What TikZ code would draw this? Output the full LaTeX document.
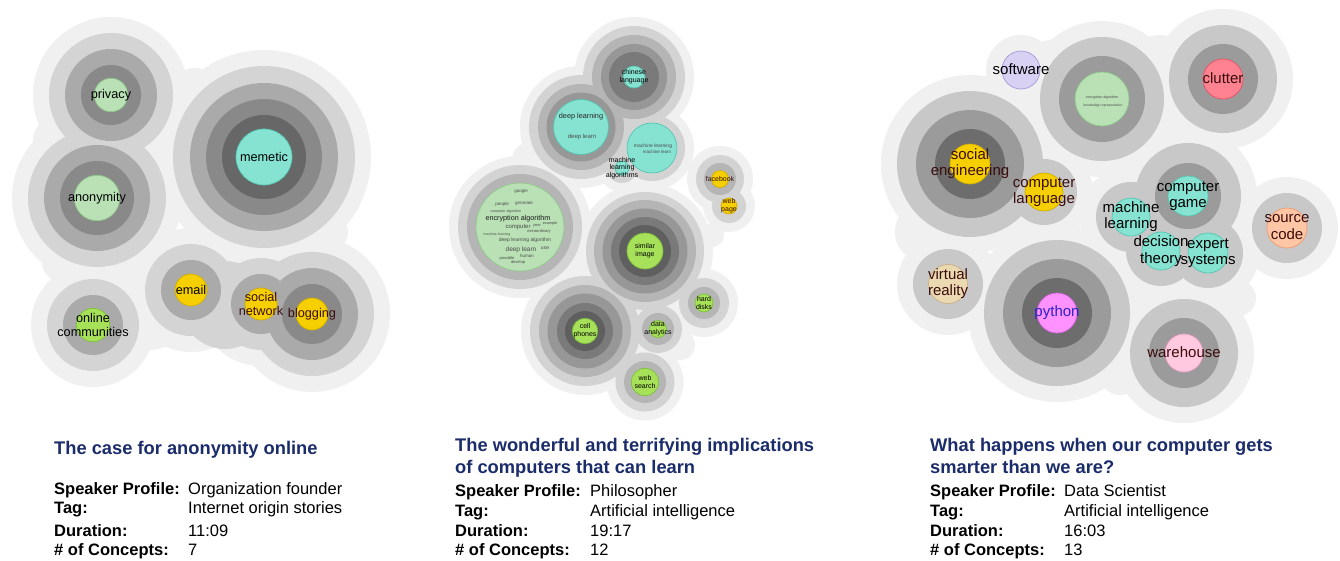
\documentclass[tikz,border=0pt]{standalone}
\usepackage{fontspec}
\setmainfont{Liberation Sans}
% ring palettes
\definecolor{blob}{HTML}{F0F0F0}
\definecolor{pa1}{HTML}{D4D4D4}\definecolor{pa2}{HTML}{AAAAAA}\definecolor{pa3}{HTML}{898989}\definecolor{pa4}{HTML}{676767}
\definecolor{pb1}{HTML}{D3D3D3}\definecolor{pb2}{HTML}{B5B5B5}\definecolor{pb3}{HTML}{979797}\definecolor{pb4}{HTML}{7A7A7A}\definecolor{pb5}{HTML}{5F5F5F}
\definecolor{pc1}{HTML}{C8C8C8}\definecolor{pc2}{HTML}{9B9B9B}\definecolor{pc3}{HTML}{6D6D6D}
% concept colours
\definecolor{gnF}{HTML}{B9E1B5}\definecolor{gnE}{HTML}{8FC98A}
\definecolor{cyF}{HTML}{86E3D2}\definecolor{cyE}{HTML}{52C6B0}
\definecolor{ygF}{HTML}{A7E15A}\definecolor{ygE}{HTML}{7DC13C}
\definecolor{gdF}{HTML}{F5CF00}\definecolor{gdE}{HTML}{D2AE00}
\definecolor{lvF}{HTML}{D9D1F3}\definecolor{lvE}{HTML}{A697D8}
\definecolor{rdF}{HTML}{FF8290}\definecolor{rdE}{HTML}{EB5068}
\definecolor{pcF}{HTML}{FFC6A6}\definecolor{pcE}{HTML}{F09A6E}
\definecolor{tnF}{HTML}{EBD9B2}\definecolor{tnE}{HTML}{C9B088}
\definecolor{mgF}{HTML}{FF92FF}\definecolor{mgE}{HTML}{DA62EA}
\definecolor{pkF}{HTML}{FFC9E0}\definecolor{pkE}{HTML}{E99DBF}
\definecolor{navy}{HTML}{1B2C6B}
\definecolor{maroon}{HTML}{3A0C0C}
\definecolor{pyblue}{HTML}{2A22C8}
\newcommand\dsk[4]{\fill[#1] (#2,#3) circle[radius=#4pt];}
\newcommand\cpt[4]{\filldraw[fill=#1F,draw=#1E,line width=0.7pt] (#2,#3) circle[radius=#4pt];}
\begin{document}
\begin{tikzpicture}[x=1pt,y=-1pt,
  lbA/.style={font=\fontsize{12.7}{13.7}\selectfont,inner sep=0pt,align=center,text=black},
  lbB/.style={font=\fontsize{7}{7.7}\selectfont,inner sep=0pt,align=center,text=black},
  lbC/.style={font=\fontsize{15}{16.4}\selectfont,inner sep=0pt,align=center,text=black},
  wc/.style={inner sep=0pt,text=black!70},
  ttl/.style={font=\bfseries\fontsize{18.3}{22}\selectfont,text=navy,anchor=base west,inner sep=0pt},
  rkey/.style={font=\bfseries\fontsize{16.5}{18}\selectfont,anchor=base west,inner sep=0pt},
  rval/.style={font=\fontsize{16.5}{18}\selectfont,anchor=base west,inner sep=0pt}]
\useasboundingbox (0,0) rectangle (1340,560);
\fill[white] (0,0) rectangle (1340,560);

% ================= PANEL 1 =================
\foreach \xx/\yy/\rr in {111/95/78,97/198/85,264/157/107,93/325/62,191/290/62,261/304/62,312/314/78,150/315/35,330/232/18,195/90/22,55/140/22,62/262/20}
  {\dsk{blob}{\xx}{\yy}{\rr}}
\foreach \xx/\yy/\rr in {111/95/62,97/198/69,264/157/91,93/325/46,191/290/46,261/304/46,312/314/62,225/305/44}
  {\dsk{pa1}{\xx}{\yy}{\rr}}
\foreach \xx/\yy/\rr in {111/95/46,97/198/53,264/157/74,93/325/30,191/290/30,261/304/30,312/314/46}
  {\dsk{pa2}{\xx}{\yy}{\rr}}
\foreach \xx/\yy/\rr in {111/95/30,97/198/37,264/157/58,312/314/30}
  {\dsk{pa3}{\xx}{\yy}{\rr}}
\dsk{pa4}{264}{157}{42}
\cpt{gn}{111}{95}{16.7}
\cpt{gn}{97}{198}{22.7}
\cpt{cy}{264}{157}{28}
\cpt{yg}{93}{325}{16.7}
\cpt{gd}{191}{290}{16}
\cpt{gd}{261}{304}{16}
\cpt{gd}{312}{314}{16}
\node[lbA] (privacy) at (111,95) {privacy};
\node[lbA] (anonymity) at (97,198) {anonymity};
\node[lbA] (memetic) at (264,157) {memetic};
\node[lbA] (online) at (93,325) {online\\communities};
\node[lbA] (email) at (191,290) {email};
\node[lbA,text=maroon] (socnet) at (261,304) {social\\network};
\node[lbA,text=maroon] (blogging) at (312,314) {blogging};

% ================= PANEL 2 =================
\foreach \xx/\yy/\rr in {634/77/60,581/127/61,652/148/42,622/168/24,720/179/33,729/206/26,520/227/71,645/251/68,704/303/34,658/329/33,585/331/64,645/382/38.5,530/160/18,712/235/12,680/345/15}
  {\dsk{blob}{\xx}{\yy}{\rr}}
\foreach \xx/\yy/\rr in {634/77/51,581/127/52,652/148/33,622/168/15,720/179/24,729/206/17,520/227/62,645/251/59,704/303/25,658/329/24,585/331/55,645/382/29.5}
  {\dsk{pb1}{\xx}{\yy}{\rr}}
\foreach \xx/\yy/\rr in {634/77/42,581/127/43,720/179/16,520/227/53,645/251/51,704/303/16,658/329/16,585/331/46,645/382/21}
  {\dsk{pb2}{\xx}{\yy}{\rr}}
\foreach \xx/\yy/\rr in {634/77/33,581/127/34.5,645/251/42.5,585/331/37.5}
  {\dsk{pb3}{\xx}{\yy}{\rr}}
\foreach \xx/\yy/\rr in {634/77/25,645/251/34,585/331/28}
  {\dsk{pb4}{\xx}{\yy}{\rr}}
\foreach \xx/\yy/\rr in {645/251/26,585/331/20}
  {\dsk{pb5}{\xx}{\yy}{\rr}}
\cpt{cy}{634}{77}{11}
\cpt{cy}{581}{127}{27.5}
\cpt{cy}{652}{148}{25}
\cpt{cy}{622}{168}{7}
\cpt{gd}{720}{179}{8.5}
\cpt{gd}{729}{206}{8}
\cpt{gn}{520}{227}{44}
\cpt{yg}{645}{251}{18}
\cpt{yg}{704}{303}{9}
\cpt{yg}{658}{329}{8.5}
\cpt{yg}{585}{331}{12.7}
\cpt{yg}{645}{382}{13.7}
% word clouds
\node[wc,font=\fontsize{7.3}{8}\selectfont,text=black!85] (dlA) at (581,117) {deep learning};
\node[wc,font=\fontsize{6}{7}\selectfont] (dlB) at (582,137) {deep learn};
\node[wc,font=\fontsize{5}{6}\selectfont] (mlA) at (653,146.5) {machine learning};
\node[wc,font=\fontsize{4.5}{5}\selectfont] (mlB) at (657,152) {machine learn};
\node[wc,font=\fontsize{4.5}{5}\selectfont] (eg1) at (521,191) {google};
\node[wc,font=\fontsize{4.5}{5}\selectfont] (eg2) at (502,204) {people};
\node[wc,font=\fontsize{4.5}{5}\selectfont] (eg3) at (524,204) {generate};
\node[wc,font=\fontsize{3.6}{4}\selectfont] (eg4) at (506,212) {computer algorithm};
\node[wc,font=\fontsize{7.2}{8}\selectfont,text=black!90] (eg5) at (518,219) {encryption algorithm};
\node[wc,font=\fontsize{6}{7}\selectfont] (eg6) at (518,226.7) {computer};
\node[wc,font=\fontsize{4}{5}\selectfont] (eg7) at (537,226) {year};
\node[wc,font=\fontsize{3.8}{5}\selectfont] (eg8) at (550,224) {example};
\node[wc,font=\fontsize{4}{5}\selectfont] (eg9) at (539,231) {extraordinary};
\node[wc,font=\fontsize{3.5}{5}\selectfont] (eg10) at (497,235) {machine learning};
\node[wc,font=\fontsize{5}{6}\selectfont] (eg11) at (525,240) {deep learning algorithm};
\node[wc,font=\fontsize{6.5}{7}\selectfont] (eg12) at (521,250) {deep learn};
\node[wc,font=\fontsize{5}{6}\selectfont] (eg13) at (545,247.7) {use};
\node[wc,font=\fontsize{4.5}{5}\selectfont] (eg14) at (527,255.7) {human};
\node[wc,font=\fontsize{4}{5}\selectfont] (eg15) at (507,258.7) {possible};
\node[wc,font=\fontsize{4}{5}\selectfont] (eg16) at (518,262) {develop};
\node[lbB] (chinese) at (634,77) {chinese\\language};
\node[lbB] (mla) at (622,168) {machine\\learning\\algorithms};
\node[lbB,text=maroon] (facebook) at (720,179) {facebook};
\node[lbB,text=maroon] (webpage) at (729,206) {web\\page};
\node[lbB] (similar) at (645,251) {similar\\image};
\node[lbB] (hard) at (704,303) {hard\\disks};
\node[lbB] (data) at (658,329) {data\\analytics};
\node[lbB] (cell) at (585,331) {cell\\phones};
\node[lbB] (websearch) at (645,382) {web\\search};

% ================= PANEL 3 =================
\foreach \xx/\yy/\rr in {1021/70/35,1102/99/78,1223/79/70,970/164/89,1044/192/49,1188/196/69,1131/217/51,1161/251/51,1208/253/51,1287/228/51,948/284/51,1057/313/89,1184/353/70,1160/65/30,1050/60/20,985/92/16,925/232/30,1238/298/18,1120/375/20,990/322/22}
  {\dsk{blob}{\xx}{\yy}{\rr}}
\foreach \xx/\yy/\rr in {1102/99/62,1223/79/54,970/164/73,1044/192/33,1188/196/53,1131/217/35,1161/251/35,1208/253/35,1287/228/35,948/284/35,1057/313/73,1184/353/54}
  {\dsk{pc1}{\xx}{\yy}{\rr}}
\foreach \xx/\yy/\rr in {1102/99/43,1223/79/35,970/164/54,1188/196/33,1057/313/54,1184/353/35}
  {\dsk{pc2}{\xx}{\yy}{\rr}}
\foreach \xx/\yy/\rr in {970/164/35,1057/313/35}
  {\dsk{pc3}{\xx}{\yy}{\rr}}
\cpt{lv}{1021}{70}{19}
\cpt{gn}{1102}{99}{27}
\cpt{rd}{1223}{79}{20}
\cpt{gd}{970}{164}{20}
\cpt{gd}{1044}{192}{19}
\cpt{cy}{1188}{196}{20}
\cpt{cy}{1131}{217}{19}
\cpt{cy}{1161}{251}{19}
\cpt{cy}{1208}{253}{20}
\cpt{pc}{1287}{228}{20}
\cpt{tn}{948}{284}{19.5}
\cpt{mg}{1057}{313}{20}
\cpt{pk}{1184}{353}{19}
\node[wc,font=\fontsize{3.6}{4}\selectfont] (c3a) at (1102,98) {encryption algorithm};
\node[wc,font=\fontsize{3.4}{4}\selectfont] (c3b) at (1103,106) {knowledge representation};
\node[lbC] (software) at (1021,69.5) {software};
\node[lbC,text=maroon] (clutter) at (1223,78) {clutter};
\node[lbC,text=maroon] (soceng) at (970,163.5) {social\\engineering};
\node[lbC,text=maroon] (complang) at (1044,192.5) {computer\\language};
\node[lbC] (compgame) at (1188,196) {computer\\game};
\node[lbC] (ml3) at (1131,216.5) {machine\\learning};
\node[lbC] (dectheory) at (1161,251) {decision\\theory};
\node[lbC] (expsys) at (1208,253.5) {expert\\systems};
\node[lbC,text=maroon] (srccode) at (1287,227) {source\\code};
\node[lbC,text=maroon] (vr) at (948,283.5) {virtual\\reality};
\node[lbC,text=pyblue] (python) at (1057,312.5) {python};
\node[lbC,text=maroon] (warehouse) at (1184,352.5) {warehouse};

% ================= TEXT BLOCKS =================
\node[ttl] (t1) at (54,454) {The case for anonymity online};
\node[rkey] (k1a) at (54,494) {Speaker Profile:};
\node[rkey] (k1b) at (54,513) {Tag:};
\node[rkey] (k1c) at (54,536) {Duration:};
\node[rkey] (k1d) at (54,555) {\# of Concepts:};
\node[rval] (v1a) at (188,494) {Organization founder};
\node[rval] (v1b) at (188,513) {Internet origin stories};
\node[rval] (v1c) at (188,536) {11:09};
\node[rval] (v1d) at (188,555) {7};

\node[ttl] (t2a) at (455,451) {The wonderful and terrifying implications};
\node[ttl] (t2b) at (455,473) {of computers that can learn};
\node[rkey] (k2a) at (455,496) {Speaker Profile:};
\node[rkey] (k2b) at (455,516) {Tag:};
\node[rkey] (k2c) at (455,536) {Duration:};
\node[rkey] (k2d) at (455,555) {\# of Concepts:};
\node[rval] (v2a) at (590,496) {Philosopher};
\node[rval] (v2b) at (590,516) {Artificial intelligence};
\node[rval] (v2c) at (590,536) {19:17};
\node[rval] (v2d) at (590,555) {12};

\node[ttl] (t3a) at (930,451) {What happens when our computer gets};
\node[ttl] (t3b) at (930,473) {smarter than we are?};
\node[rkey] (k3a) at (930,496) {Speaker Profile:};
\node[rkey] (k3b) at (930,516) {Tag:};
\node[rkey] (k3c) at (930,536) {Duration:};
\node[rkey] (k3d) at (930,555) {\# of Concepts:};
\node[rval] (v3a) at (1064,496) {Data Scientist};
\node[rval] (v3b) at (1064,516) {Artificial intelligence};
\node[rval] (v3c) at (1064,536) {16:03};
\node[rval] (v3d) at (1064,555) {13};
\end{tikzpicture}
\end{document}
